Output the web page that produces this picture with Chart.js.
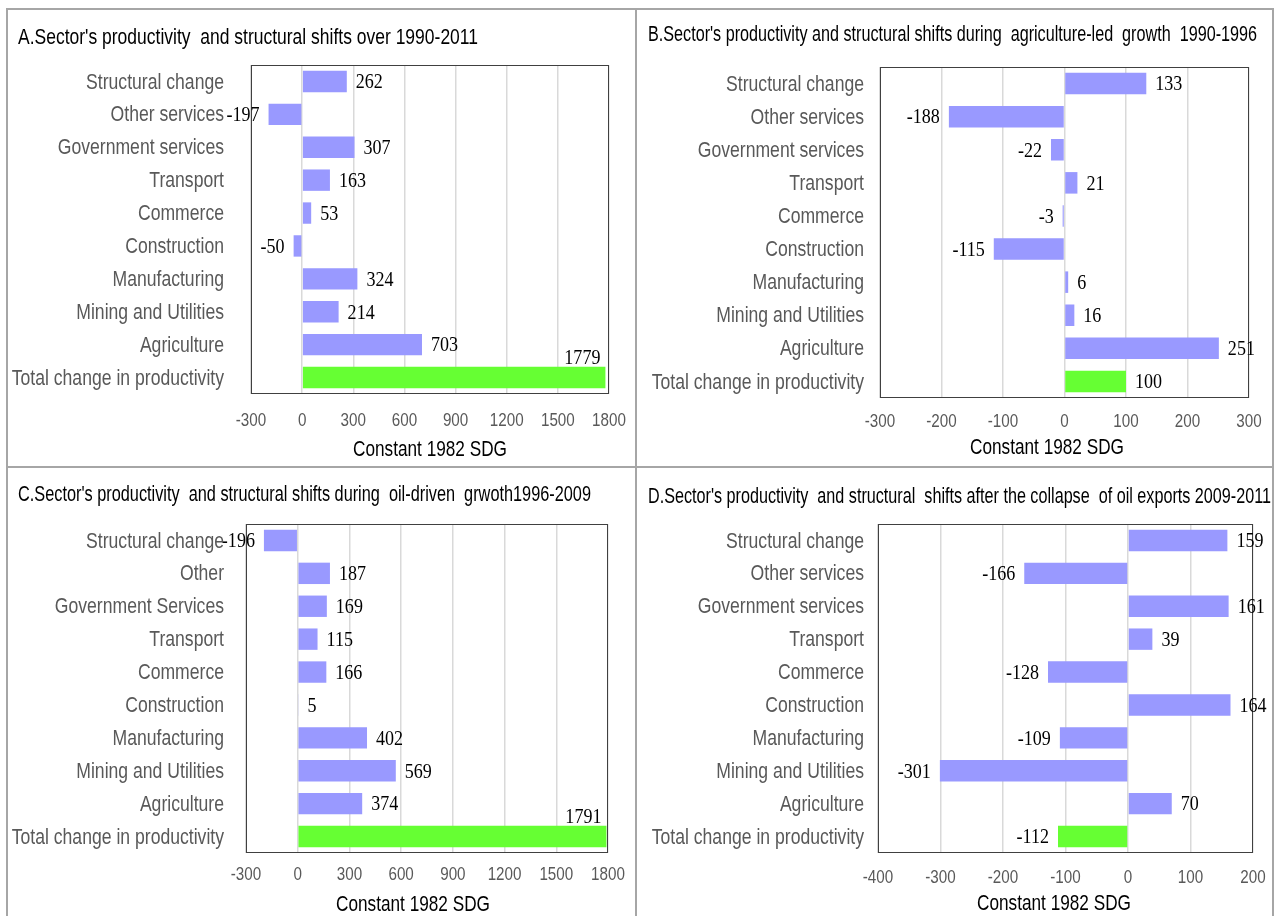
<!DOCTYPE html>
<html>
<head>
<meta charset="utf-8">
<title>Sector productivity and structural shifts</title>
<script src="https://cdn.jsdelivr.net/npm/chart.js@4.4.1/dist/chart.umd.min.js"></script>
<style>
  html, body { margin: 0; padding: 0; background: #ffffff; }
  body { width: 1277px; height: 916px; position: relative; overflow: hidden; }
  #frame { position: absolute; left: 6px; top: 8px; width: 1268px; height: 912px;
           border: 2px solid #a6a6a6; box-sizing: border-box; }
  .vdiv { position: absolute; left: 635px; top: 8px; width: 2px; height: 910px; background: #a6a6a6; }
  .hdiv { position: absolute; left: 6px; top: 466px; width: 1268px; height: 2px; background: #a6a6a6; }
  canvas { position: absolute; }
</style>
</head>
<body>
<div id="frame"></div>
<div class="vdiv"></div>
<div class="hdiv"></div>
<canvas id="panelA" width="627" height="456" style="left:8px;top:10px"></canvas>
<canvas id="panelB" width="635" height="456" style="left:637px;top:10px"></canvas>
<canvas id="panelC" width="627" height="446" style="left:8px;top:468px"></canvas>
<canvas id="panelD" width="635" height="446" style="left:637px;top:468px"></canvas>

<script>
// ---- Data ----------------------------------------------------------------
const sectors = ['Structural change', 'Other services', 'Government services', 'Transport',
  'Commerce', 'Construction', 'Manufacturing', 'Mining and Utilities', 'Agriculture',
  'Total change in productivity'];
const sectorsC = ['Structural change', 'Other', 'Government Services', 'Transport',
  'Commerce', 'Construction', 'Manufacturing', 'Mining and Utilities', 'Agriculture',
  'Total change in productivity'];

const valuesA = [262, -197, 307, 163, 53, -50, 324, 214, 703, 1779];   // 1990-2011
const valuesB = [133, -188, -22, 21, -3, -115, 6, 16, 251, 100];       // 1990-1996
const valuesC = [-196, 187, 169, 115, 166, 5, 402, 569, 374, 1791];    // 1996-2009
const valuesD = [159, -166, 161, 39, -128, 164, -109, -301, 70, -112]; // 2009-2011

const ticksA = [-300, 0, 300, 600, 900, 1200, 1500, 1800];
const ticksB = [-300, -200, -100, 0, 100, 200, 300];
const ticksC = [-300, 0, 300, 600, 900, 1200, 1500, 1800];
const ticksD = [-400, -300, -200, -100, 0, 100, 200];

const titleA = "A.Sector's productivity  and structural shifts over 1990-2011";
const titleB = "B.Sector's productivity and structural shifts during  agriculture-led  growth  1990-1996";
const titleC = "C.Sector's productivity  and structural shifts during  oil-driven  grwoth1996-2009";
const titleD = "D.Sector's productivity  and structural  shifts after the collapse  of oil exports 2009-2011";
const axisTitle = 'Constant 1982 SDG';

// ---- Styling -------------------------------------------------------------
// Text is set in Liberation Sans / Serif and compressed horizontally to a narrow face.
const SANS = '"Liberation Sans", Arial, sans-serif';
const SERIF = '"Liberation Serif", "Times New Roman", serif';
const SQUEEZE = 0.8;
const BAR_COLOR = '#9999ff';
const TOTAL_COLOR = '#66ff33';
const LABEL_GREY = '#595959';

// Draws compressed text; with `fitWidth` the compression is chosen so the text spans that width.
function narrowText(ctx, txt, x, y, align, baseline, font, color, fitWidth) {
  ctx.save();
  ctx.font = font;
  ctx.fillStyle = color;
  ctx.textAlign = align;
  ctx.textBaseline = baseline;
  const sx = fitWidth ? fitWidth / ctx.measureText(txt).width : SQUEEZE;
  ctx.translate(x, y);
  ctx.scale(sx, 1);
  ctx.fillText(txt, 0, 0);
  ctx.restore();
}

// Frame of the plot area, drawn over the grid.
const plotFrame = {
  id: 'plotFrame',
  afterDatasetsDraw(chart) {
    const { ctx, chartArea: a } = chart;
    ctx.save();
    ctx.strokeStyle = '#404040';
    ctx.lineWidth = 1;
    ctx.strokeRect(Math.round(a.left) + 0.5, Math.round(a.top) + 0.5,
                   Math.round(a.right - a.left) - 1, Math.round(a.bottom - a.top) - 1);
    ctx.restore();
  }
};

// Value labels at the end of each bar.
const valueLabels = {
  id: 'valueLabels',
  afterDatasetsDraw(chart) {
    const { ctx } = chart;
    const data = chart.data.datasets[0].data;
    const meta = chart.getDatasetMeta(0);
    const font = '22px ' + SERIF;
    const squeeze = 0.82;
    ctx.save();
    ctx.font = font;
    meta.data.forEach((bar, i) => {
      const v = data[i];
      const txt = String(v);
      const w = ctx.measureText(txt).width * squeeze;
      let x, y = bar.y + 1, align = 'left', baseline = 'middle';
      if (v >= 0) {
        x = bar.x + 9;
        if (x + w > chart.width - 4) {
          // no room past the bar end: sit on top of the bar, flush with its end
          x = bar.x - 5;
          y = bar.y - bar.height / 2 + 2;
          align = 'right';
          baseline = 'bottom';
        }
      } else {
        x = bar.x - 9;
        align = 'right';
      }
      narrowText(ctx, txt, x, y, align, baseline, font, '#000000', w);
    });
    ctx.restore();
  }
};

// Category names, tick values, panel heading and axis caption.
const panelText = {
  id: 'panelText',
  afterDraw(chart, args, opts) {
    const { ctx, chartArea: a } = chart;
    const xs = chart.scales.x, ys = chart.scales.y;
    chart.data.labels.forEach((lab, i) => {
      narrowText(ctx, lab, a.left - opts.yPad, ys.getPixelForValue(i) + 1,
                 'right', 'middle', '22px ' + SANS, LABEL_GREY);
    });
    xs.ticks.forEach(t => {
      narrowText(ctx, String(t.value), xs.getPixelForValue(t.value), opts.tickY,
                 'center', 'middle', '19px ' + SANS, LABEL_GREY);
    });
    narrowText(ctx, opts.title, opts.titleX, opts.titleY, 'left', 'middle',
               '22px ' + SANS, '#000000', opts.titleW);
    narrowText(ctx, opts.axisTitle, opts.axisX, opts.axisY, 'center', 'middle',
               '21.5px ' + SANS, '#000000');
  }
};

function makePanel(id, labels, values, ticks, title, geo) {
  const canvas = document.getElementById(id);
  const colors = labels.map((_, i) => i === labels.length - 1 ? TOTAL_COLOR : BAR_COLOR);
  return new Chart(canvas, {
    type: 'bar',
    data: {
      labels: labels,
      datasets: [{
        data: values,
        backgroundColor: colors,
        borderWidth: 0,
        barPercentage: 0.65,
        categoryPercentage: 1.0
      }]
    },
    options: {
      indexAxis: 'y',
      responsive: false,
      animation: false,
      devicePixelRatio: 1,
      layout: { padding: { left: 0, top: geo.top, right: canvas.width - geo.right, bottom: 0 } },
      plugins: {
        legend: { display: false },
        tooltip: { enabled: false },
        title: { display: false },
        panelText: {
          title: title, titleX: geo.titleX, titleY: geo.titleY, titleW: geo.titleW,
          axisTitle: axisTitle, axisX: geo.axisX, axisY: geo.axisY,
          yPad: geo.yPad, tickY: geo.tickY
        }
      },
      scales: {
        x: {
          type: 'linear',
          min: ticks[0],
          max: ticks[ticks.length - 1],
          afterBuildTicks: s => { s.ticks = ticks.map(v => ({ value: v })); },
          afterFit: s => { s.height = canvas.height - geo.bottom; },
          grid: { color: '#d9d9d9', lineWidth: 1.5, drawTicks: false },
          border: { display: false },
          ticks: { display: false }
        },
        y: {
          afterFit: s => { s.width = geo.left; },
          grid: { display: false, drawTicks: false },
          border: { display: false },
          ticks: { display: false }
        }
      }
    },
    plugins: [plotFrame, valueLabels, panelText]
  });
}

makePanel('panelA', sectors, valuesA, ticksA, titleA,
  { left: 243, right: 601, top: 55, bottom: 384, yPad: 27, tickY: 411,
    titleX: 10, titleY: 28, titleW: 460, axisX: 422, axisY: 440 });
makePanel('panelB', sectors, valuesB, ticksB, titleB,
  { left: 243, right: 612, top: 57, bottom: 388, yPad: 16, tickY: 412,
    titleX: 11, titleY: 25, titleW: 609, axisX: 410, axisY: 438 });
makePanel('panelC', sectorsC, valuesC, ticksC, titleC,
  { left: 238, right: 600, top: 56, bottom: 385, yPad: 22, tickY: 407,
    titleX: 10, titleY: 27, titleW: 573, axisX: 405, axisY: 437 });
makePanel('panelD', sectors, valuesD, ticksD, titleD,
  { left: 241, right: 616, top: 56, bottom: 385, yPad: 14, tickY: 410,
    titleX: 11, titleY: 29, titleW: 623, axisX: 417, axisY: 436 });
</script>
</body>
</html>
